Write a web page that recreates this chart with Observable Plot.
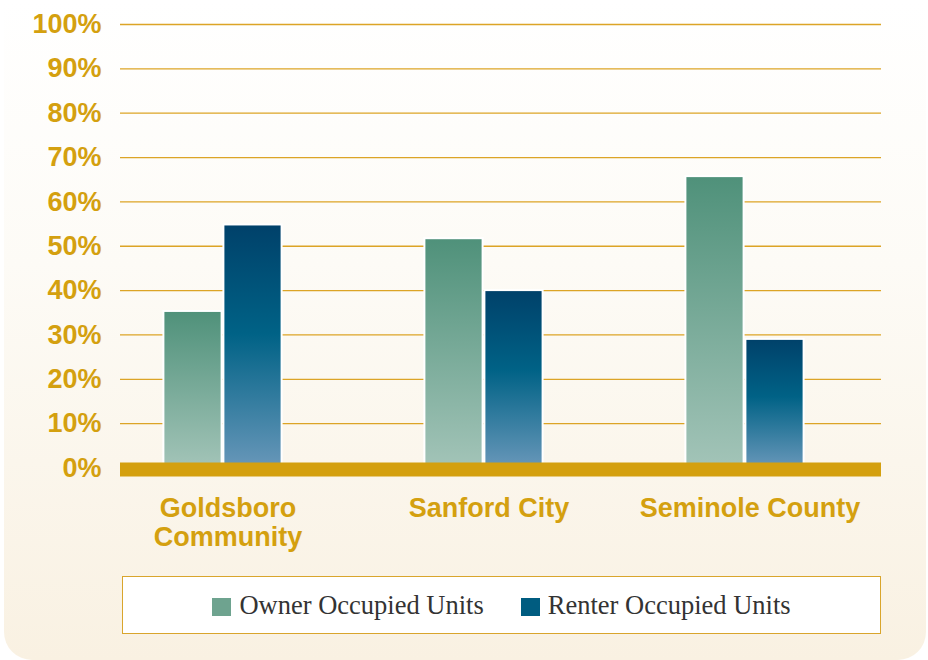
<!DOCTYPE html>
<html>
<head>
<meta charset="utf-8">
<script src="https://cdn.jsdelivr.net/npm/d3@7"></script>
<script src="https://cdn.jsdelivr.net/npm/@observablehq/plot@0.6"></script>
<style>
  html, body { margin: 0; padding: 0; background: #ffffff; }
  #bg { position: absolute; left: 4px; top: 0; width: 922px; height: 660px;
        border-radius: 0 0 28px 28px;
        background: linear-gradient(to bottom, #ffffff 0%, #fdfbf6 40%, #f9f1e2 100%); }
  #chart { position: absolute; left: 0; top: 0; width: 928px; }
  #legend { margin-left: 122px; margin-top: 16px; width: 759px; height: 58px; box-sizing: border-box;
            border: 1.5px solid #d9a52c; background: #ffffff;
            display: flex; align-items: center; justify-content: center;
            font-family: "Liberation Serif", "Times New Roman", serif; font-size: 26.5px; color: #333333; }
  .item { display: flex; align-items: center; }
  .sw { width: 19px; height: 18px; margin-right: 8px; margin-top: 3px; }
  .gap { width: 37px; }
</style>
</head>
<body>
<div id="bg"></div>
<div id="chart"></div>
<script>
const cities = ["Goldsboro Community", "Sanford City", "Seminole County"];
const cityLabels = ["Goldsboro\nCommunity", "Sanford City", "Seminole County"];
const ownerValues = [35.3, 51.7, 65.7];
const renterValues = [54.8, 40.0, 29.0];
const seriesNames = ["Owner Occupied Units", "Renter Occupied Units"];
const yTicks = [0, 10, 20, 30, 40, 50, 60, 70, 80, 90, 100];

const gold = "#d4a00f";
const ownerRows = cities.map((c, i) => ({city: c, value: ownerValues[i]}));
const renterRows = cities.map((c, i) => ({city: c, value: renterValues[i]}));
const gridTicks = yTicks.filter(d => d > 0);

const svg = Plot.plot({
  width: 928,
  height: 560,
  marginLeft: 120,
  marginRight: 47,
  marginTop: 24,
  marginBottom: 92.5,
  style: {background: "transparent", fontFamily: "'Liberation Sans', Arial, sans-serif", overflow: "visible"},
  x: {domain: cities, range: [91.5, 874.5], padding: 0, axis: null},
  y: {domain: [0, 100], axis: null},
  marks: [
    Plot.ruleY(gridTicks, {stroke: "#dca426", strokeWidth: 1.3}),
    Plot.barY(ownerRows, {x: "city", y: "value", fill: "url(#ownerGrad)", stroke: "white", strokeWidth: 2, insetLeft: 71.4, insetRight: 131.4}),
    Plot.barY(renterRows, {x: "city", y: "value", fill: "url(#renterGrad)", stroke: "white", strokeWidth: 2, insetLeft: 131.4, insetRight: 71.4}),
    Plot.ruleY([0], {stroke: gold, strokeWidth: 14, dy: 1.5}),
    Plot.axisY({ticks: yTicks, label: null, tickSize: 0, tickPadding: 19, tickFormat: d => d + "%", fontSize: 27, fontWeight: "bold", fill: gold}),
    Plot.axisX({label: null, tickSize: 0, tickPadding: 28.5, tickFormat: d => cityLabels[cities.indexOf(d)], fontSize: 27, fontWeight: "bold", fill: gold, dx: 5, lineHeight: 1.07})
  ]
});

svg.insertAdjacentHTML("afterbegin", `
<defs>
  <linearGradient id="ownerGrad" x1="0" y1="0" x2="0" y2="1">
    <stop offset="0%" stop-color="#4f917a"/>
    <stop offset="100%" stop-color="#a3c4b8"/>
  </linearGradient>
  <linearGradient id="renterGrad" x1="0" y1="0" x2="0" y2="1">
    <stop offset="0%" stop-color="#00416a"/>
    <stop offset="45%" stop-color="#006286"/>
    <stop offset="100%" stop-color="#6897b9"/>
  </linearGradient>
</defs>`);

const chart = document.getElementById("chart");
chart.appendChild(svg);

const legend = document.createElement("div");
legend.id = "legend";
const swatchColors = ["#6ea38f", "#005c80"];
seriesNames.forEach((name, i) => {
  if (i > 0) {
    const g = document.createElement("div");
    g.className = "gap";
    legend.appendChild(g);
  }
  const item = document.createElement("div");
  item.className = "item";
  const sw = document.createElement("div");
  sw.className = "sw";
  sw.style.background = swatchColors[i];
  const t = document.createElement("span");
  t.textContent = name;
  item.appendChild(sw);
  item.appendChild(t);
  legend.appendChild(item);
});
chart.appendChild(legend);
</script>
</body>
</html>
